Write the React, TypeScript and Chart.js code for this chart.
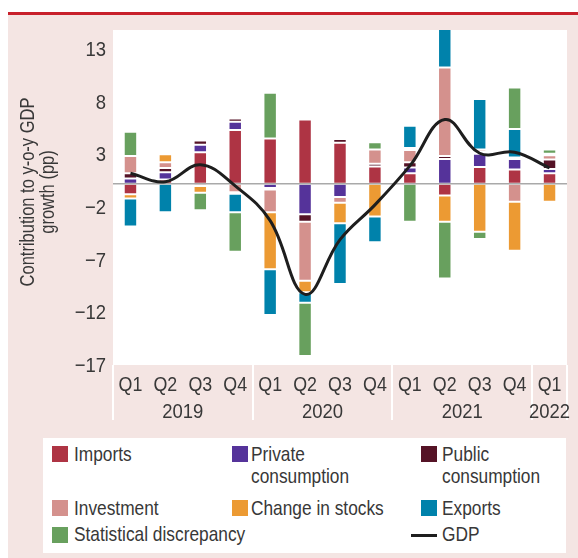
import React, { useEffect, useRef } from 'react';
import { Chart, registerables } from 'chart.js';

Chart.register(...registerables);

const quarters = ['Q1', 'Q2', 'Q3', 'Q4', 'Q1', 'Q2', 'Q3', 'Q4', 'Q1', 'Q2', 'Q3', 'Q4', 'Q1'];
const yearLabels = ['2019', '2020', '2021', '2022'];
const yearSpans = [4, 4, 4, 1];
const yTicks = [-17, -12, -7, -2, 3, 8, 13];

const imports = [-1.0, 0.4, 3.0, 5.1, 4.3, 6.1, 3.9, 1.65, 1.0, -1.1, 1.6, 1.35, 1.0];
const privateCons = [0.5, 0.7, 0.7, 0.8, -0.4, -2.9, -1.25, 0.0, 0.55, 2.35, 1.25, 1.0, 0.4];
const publicCons = [0.5, 0.4, 0.4, 0.3, -0.15, -0.7, 0.35, 0.25, 0.5, 0.3, 0.2, 0.15, 0.9];
const investment = [1.65, 0.55, -0.2, -0.8, -2.15, -5.6, -0.55, 1.35, 1.15, 8.4, 0.2, -1.7, 0.4];
const stocks = [-0.4, 0.75, -0.65, -0.15, -5.4, -1.1, -1.95, -3.1, 0.2, -2.5, -4.55, -4.65, -1.7];
const exportsData = [-2.65, -2.7, 0.2, -1.75, -4.35, -1.0, -5.75, -2.45, 2.1, 4.0, 4.8, 2.7, 0.15];
const statDisc = [2.3, -0.15, -1.65, -3.75, 4.35, -5.05, 0.2, 0.7, -3.6, -5.4, -0.7, 3.95, 0.4];
const gdp = [1.0, 0.2, 1.8, -0.2, -3.5, -10.5, -5.3, -2.0, 1.7, 6.1, 2.9, 3.0, 1.5];

const C_IMPORTS = '#AE3444';
const C_PRIVATE = '#55339A';
const C_PUBLIC = '#551326';
const C_INVEST = '#D4918D';
const C_STOCKS = '#EC9A33';
const C_EXPORTS = '#0082AB';
const C_STAT = '#68A05E';
const C_GDP = '#1e1e1e';
const PINK = '#F4E5E3';
const TEXT = '#383838';
const FONT = '"Liberation Sans", Arial, sans-serif';

const barSeries = [
  { label: 'Imports', data: imports, color: C_IMPORTS },
  { label: 'Private consumption', data: privateCons, color: C_PRIVATE },
  { label: 'Public consumption', data: publicCons, color: C_PUBLIC },
  { label: 'Investment', data: investment, color: C_INVEST },
  { label: 'Change in stocks', data: stocks, color: C_STOCKS },
  { label: 'Exports', data: exportsData, color: C_EXPORTS },
  { label: 'Statistical discrepancy', data: statDisc, color: C_STAT },
];

function fmt(v: number) {
  return v < 0 ? '\u2212' + Math.abs(v) : String(v);
}

function drawText(
  ctx: CanvasRenderingContext2D,
  text: string,
  x: number,
  y: number,
  align: CanvasTextAlign,
  sx: number,
  size: number
) {
  ctx.save();
  ctx.translate(x, y);
  ctx.scale(sx, 1);
  ctx.font = `${size}px ${FONT}`;
  ctx.fillStyle = TEXT;
  ctx.textAlign = align;
  ctx.textBaseline = 'alphabetic';
  ctx.fillText(text, 0, 0);
  ctx.restore();
}

export default function App() {
  const ref = useRef<HTMLCanvasElement>(null);

  useEffect(() => {
    const canvas = ref.current!;
    const custom = {
      id: 'custom',
      beforeDraw(chart: any) {
        const { ctx, chartArea: a } = chart;
        ctx.save();
        ctx.fillStyle = '#ffffff';
        ctx.fillRect(a.left, a.top, a.right - a.left, a.bottom - a.top);
        ctx.restore();
      },
      beforeDatasetDraw(chart: any, args: any) {
        if (args.index !== barSeries.length) return;
        const { ctx, chartArea: a } = chart;
        const y = chart.scales.y.getPixelForValue(0);
        ctx.save();
        ctx.strokeStyle = '#a9a9a9';
        ctx.lineWidth = 1.5;
        ctx.beginPath();
        ctx.moveTo(a.left, y);
        ctx.lineTo(a.right, y);
        ctx.stroke();
        ctx.restore();
      },
      afterDraw(chart: any) {
        const { ctx, chartArea: a } = chart;
        const xs = chart.scales.x;
        const ys = chart.scales.y;
        const half = (xs.getPixelForValue(1) - xs.getPixelForValue(0)) / 2;
        const edge = (k: number) =>
          k < quarters.length ? xs.getPixelForValue(k) - half : xs.getPixelForValue(quarters.length - 1) + half;
        ctx.save();
        // separators
        ctx.fillStyle = '#ffffff';
        let start = 0;
        const bounds = [0];
        yearSpans.forEach((s) => {
          start += s;
          bounds.push(start);
        });
        bounds.forEach((k) => {
          const x = edge(k);
          ctx.fillRect(Math.round(x) - 1, a.bottom, 2, 405 - a.bottom);
        });
        ctx.restore();
        // quarter tick labels (library ticks)
        xs.ticks.forEach((t: any, i: number) => {
          const x = xs.getPixelForTick(i);
          drawText(ctx, String(quarters[t.value] ?? t.label), x, 375.5, 'center', 0.85, 21);
        });
        // y tick labels (library ticks)
        ys.ticks.forEach((t: any, i: number) => {
          const y = ys.getPixelForTick(i);
          drawText(ctx, fmt(t.value), 98, y + 9, 'right', 0.88, 21);
        });
        // year labels
        yearLabels.forEach((yl, i) => {
          const x0 = edge(bounds[i]);
          const x1 = edge(bounds[i + 1]);
          drawText(ctx, yl, (x0 + x1) / 2, 403, 'center', 0.88, 21);
        });
        // y title
        ctx.save();
        ctx.translate(20, 177);
        ctx.rotate(-Math.PI / 2);
        ctx.scale(0.825, 1);
        ctx.font = `20px ${FONT}`;
        ctx.fillStyle = TEXT;
        ctx.textAlign = 'center';
        ctx.textBaseline = 'middle';
        ctx.fillText('Contribution to y-o-y GDP', 0, 0);
        ctx.fillText('growth (pp)', 0, 20);
        ctx.restore();
      },
    };

    const chart = new Chart(canvas, {
      type: 'bar',
      data: {
        labels: quarters,
        datasets: [
          ...barSeries.map((s) => ({
            type: 'bar' as const,
            label: s.label,
            data: s.data,
            backgroundColor: s.color,
            borderColor: 'rgba(255,255,255,0.45)',
            borderWidth: 1,
            borderSkipped: false,
            barPercentage: 0.385,
            categoryPercentage: 1,
            order: 1,
          })),
          {
            type: 'line' as const,
            label: 'GDP',
            data: gdp,
            borderColor: C_GDP,
            backgroundColor: C_GDP,
            borderWidth: 3,
            tension: 0.4,
            pointRadius: 0,
            fill: false,
            order: 0,
          } as any,
        ],
      },
      options: {
        responsive: false,
        animation: false,
        devicePixelRatio: 1,
        layout: { padding: { top: 15, right: 11, left: 0, bottom: 0 } },
        plugins: { legend: { display: false }, tooltip: { enabled: false }, title: { display: false } },
        scales: {
          x: {
            stacked: true,
            grid: { display: false, drawTicks: false },
            border: { display: false },
            ticks: { display: false, autoSkip: false, maxRotation: 0 },
            afterFit: (s: any) => {
              s.height = 70;
            },
          },
          y: {
            stacked: true,
            min: -17.2,
            max: 14.6,
            grid: { display: false, drawTicks: false },
            border: { display: false },
            afterBuildTicks: (s: any) => {
              s.ticks = yTicks.map((v) => ({ value: v }));
            },
            ticks: { display: false },
            afterFit: (s: any) => {
              s.width = 105;
            },
          },
        },
      },
      plugins: [custom],
    });
    return () => chart.destroy();
  }, []);

  const textStyle: React.CSSProperties = {
    position: 'absolute',
    fontFamily: FONT,
    fontSize: 21,
    lineHeight: '22px',
    color: TEXT,
    whiteSpace: 'nowrap',
    transform: 'scaleX(0.824)',
    transformOrigin: '0 0',
  };
  const sw = (left: number, top: number, color: string) => (
    <div style={{ position: 'absolute', left, top, width: 16, height: 16, background: color }} />
  );

  return (
    <div style={{ position: 'fixed', left: 8, top: 8, width: 570, height: 550, background: '#fff', overflow: 'hidden' }}>
      <div style={{ position: 'absolute', left: 0, top: 4, width: 570, height: 3, background: '#C8202B' }} />
      <div style={{ position: 'absolute', left: 0, top: 7, width: 570, height: 543, background: PINK }} />
      <canvas ref={ref} width={570} height={420} style={{ position: 'absolute', left: 0, top: 7, width: 570, height: 420 }} />
      <div style={{ position: 'absolute', left: 35, top: 430, width: 523, height: 115, background: '#fff' }} />
      {sw(44, 438, C_IMPORTS)}
      <div style={{ ...textStyle, left: 66, top: 434.7 }}>Imports</div>
      {sw(224, 438, C_PRIVATE)}
      <div style={{ ...textStyle, left: 243, top: 434.7 }}>Private<br />consumption</div>
      {sw(413, 438, C_PUBLIC)}
      <div style={{ ...textStyle, left: 434, top: 434.7 }}>Public<br />consumption</div>
      {sw(44, 492, C_INVEST)}
      <div style={{ ...textStyle, left: 66, top: 488.7 }}>Investment</div>
      {sw(224, 492, C_STOCKS)}
      <div style={{ ...textStyle, left: 243, top: 488.7 }}>Change in stocks</div>
      {sw(413, 492, C_EXPORTS)}
      <div style={{ ...textStyle, left: 434, top: 488.7 }}>Exports</div>
      {sw(44, 519, C_STAT)}
      <div style={{ ...textStyle, left: 66, top: 514.7 }}>Statistical discrepancy</div>
      <div style={{ position: 'absolute', left: 403, top: 526, width: 26, height: 3, background: C_GDP }} />
      <div style={{ ...textStyle, left: 434, top: 514.7 }}>GDP</div>
    </div>
  );
}
